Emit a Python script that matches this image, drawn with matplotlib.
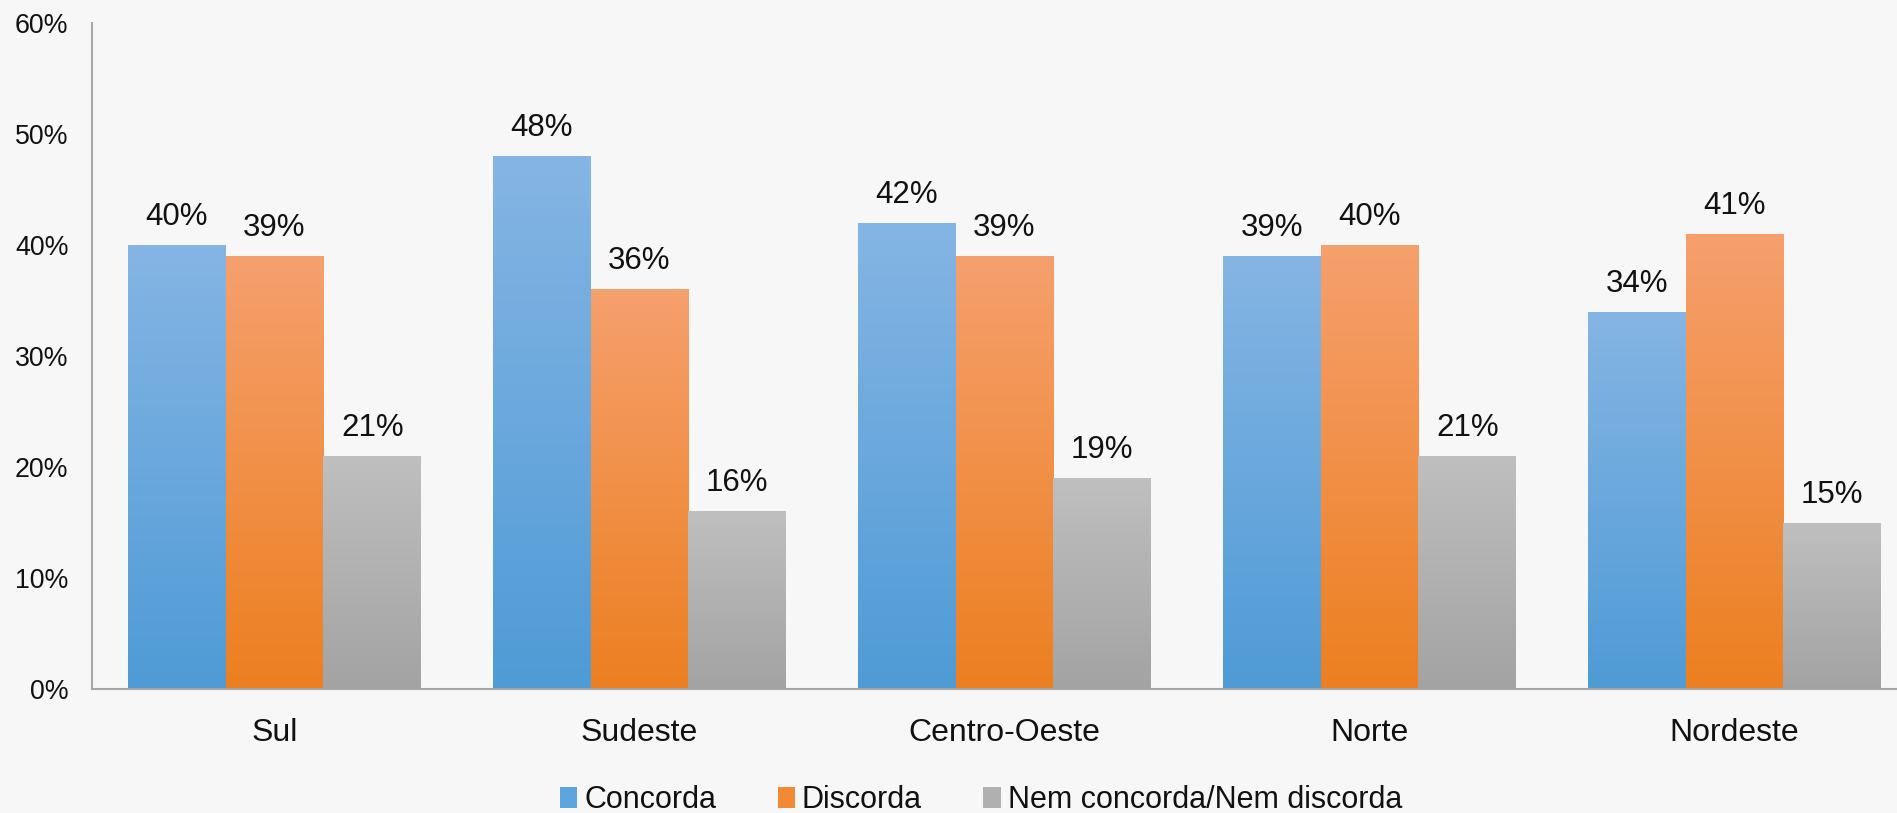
import matplotlib
matplotlib.use("Agg")
import matplotlib.pyplot as plt
import numpy as np
from matplotlib.colors import LinearSegmentedColormap
from matplotlib.patches import Patch

categories = ["Sul", "Sudeste", "Centro-Oeste", "Norte", "Nordeste"]
series_names = ["Concorda", "Discorda", "Nem concorda/Nem discorda"]
concorda = [40, 48, 42, 39, 34]
discorda = [39, 36, 39, 40, 41]
nem = [21, 16, 19, 21, 15]
yticks = [0, 10, 20, 30, 40, 50, 60]

series = [concorda, discorda, nem]
grad_colors = [("#85b5e4", "#4f9bd6"), ("#f6a06e", "#ec7f20"), ("#bfbfbf", "#a3a3a3")]
legend_colors = ["#5fa5dd", "#f28a35", "#b0b0b0"]

bg = "#f7f7f7"
fig = plt.figure(figsize=(18.97, 8.13), dpi=100, facecolor=bg)
ax = fig.add_axes([92 / 1897, 1 - 689 / 813, 1825 / 1897, 666 / 813])
ax.set_facecolor("none")

x = np.arange(len(categories))
w = 0.2677
for i, (vals, (ctop, cbot)) in enumerate(zip(series, grad_colors)):
    bars = ax.bar(x + (i - 1) * w, vals, width=w, color=legend_colors[i], zorder=2,
                  label=series_names[i], linewidth=0)
    cmap = LinearSegmentedColormap.from_list("g%d" % i, [cbot, ctop])
    for b, v in zip(bars, vals):
        b.set_facecolor("none")
        x0 = b.get_x()
        grad = np.linspace(0, 1, 256).reshape(-1, 1)
        im = ax.imshow(grad, extent=(x0, x0 + b.get_width(), 0, v), origin="lower",
                       cmap=cmap, aspect="auto", zorder=2, interpolation="bicubic")
        im.set_clip_path(b)
        ax.annotate(f"{v}%", (x0 + b.get_width() / 2, v), xytext=(0, 14.4),
                    textcoords="offset points", ha="center", va="baseline",
                    fontsize=22.5, family="Liberation Sans", color="#111111",
                    annotation_clip=False)

ax.set_xlim(-0.5, len(categories) - 0.5)
ax.set_ylim(0, 60)
ax.set_yticks(yticks)
ax.set_yticklabels([f"{t}%" for t in yticks], fontsize=19.3, family="Liberation Sans")
ax.set_xticks(x)
ax.set_xticklabels(categories, fontsize=23, family="Liberation Sans")
ax.tick_params(axis="both", length=0, colors="#111111")
ax.tick_params(axis="y", pad=17)
ax.tick_params(axis="x", pad=21)
for s in ["top", "right"]:
    ax.spines[s].set_visible(False)
for s in ["left", "bottom"]:
    ax.spines[s].set_color("#a6a6a6")
    ax.spines[s].set_linewidth(1.5)

handles = [Patch(facecolor=c, edgecolor="none") for c in legend_colors]
leg = fig.legend(handles, series_names, loc="center", bbox_to_anchor=(981 / 1897, 1 - 800 / 813),
                 ncol=3, frameon=False, handlelength=0.57, handleheight=0.7,
                 handletextpad=0.23, columnspacing=2.0, borderpad=0, borderaxespad=0,
                 prop={"family": "Liberation Sans", "size": 22})
for t in leg.get_texts():
    t.set_color("#111111")

fig.savefig("out.png", dpi=100, facecolor=bg)
